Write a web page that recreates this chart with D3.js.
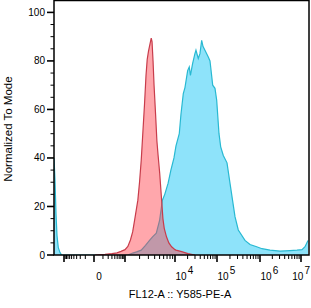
<!DOCTYPE html>
<html><head><meta charset="utf-8">
<script src="https://cdn.jsdelivr.net/npm/d3@7"></script>
<style>html,body{margin:0;padding:0;background:#fff;}svg{display:block;font-family:"Liberation Sans",Arial,sans-serif;}</style>
</head><body><div id="chart"></div>
<script>
// ---- data (fluorescence value, % of mode) ----
const redX = [8,134,302,492,707,1000,1148,1300,1445,1585,1845,1995,2158,2291,2512,2692,2844,3020,3236,3420,3548,3715,3890,4169,4426,4677,5012,5420,5808,6166,6823,7586,8590,10000,10560,14460,20400,29900];
const redY = [0,0.3,0.6,0.9,1.5,2.2,3.5,6.2,9.5,14.4,22.6,30,39,48,62,74,80.6,84,87,89.4,88,80,70,58,47,41,34,24,15,11,7.5,5,3.4,2.2,2,1.4,0.6,0];
const blueX = [-2346,-2158,-1985,-1824,-1634,-1414,-1221,1148,1445,1738,2158,2630,3162,3631,4305,5012,5675,6310,7345,8318,9550,10560,12650,13890,15780,17300,20050,21900,23370,26380,29900,31620,35900,39360,43240,46420,51760,56870,62090,68130,70790,79040,89570,98330,111300,121900,140100,170900,200400,262200,312800,447700,584800,837600,1119000,1754000,3076000,5395000,7980000,10580000,12530000,14820000];
const blueY = [40,31,17,8,3,1,0,0,0.8,1.3,2,4,6,7.5,9,14.4,22.6,25,29.6,35,40,45,50,58,66.5,69,76,77.5,74,79,83,84.4,81,83,88.5,86,84.4,83,81.6,80,77.5,70,68.7,63.8,50,44.6,41,38,29.6,15.8,10.3,6,4.3,3.4,2.6,2,1.6,1.8,2,2.2,3.4,6];
const yTicks = [0,20,40,60,80,100];
const xMajorTicks = [-1e3,0,1e3,1e4,1e5,1e6,1e7];
const xLabelTicks = [0,1e4,1e5,1e6,1e7];
const xLabelText = ["0","10|4","10|5","10|6","10|7"];
const yTitle = "Normalized To Mode";
const xTitle = "FL12-A :: Y585-PE-A";

// ---- layout ----
const W = 311, H = 308;
const L = 54, R = 309, T = 0, B = 255;
const svg = d3.select("#chart").append("svg").attr("width", W).attr("height", H);

// biexponential-like transform + piecewise display scale
const C = 100;
const f = v => Math.sign(v) * Math.log10(1 + Math.abs(v) / C);
const xs = d3.scaleLinear().domain(xMajorTicks.map(f)).range([64,94,125,175,217,260,301]);
const x = v => xs(f(v));
const y = d3.scaleLinear().domain([0,100]).range([B, 12.4]);

svg.append("defs").append("clipPath").attr("id","clip")
  .append("rect").attr("x",L).attr("y",T).attr("width",R-L).attr("height",B-T);

const area = d3.area().x(d=>x(d[0])).y0(y(0)).y1(d=>y(d[1]));
const line = d3.line().x(d=>x(d[0])).y(d=>y(d[1]));
const blue = blueX.map((v,i)=>[v,blueY[i]]);
const red = redX.map((v,i)=>[v,redY[i]]);

const g = svg.append("g").attr("clip-path","url(#clip)");
g.append("path").datum(blue).attr("d",area).attr("fill","rgb(30,200,245)").attr("fill-opacity",0.5);
g.append("path").datum(blue).attr("d",line).attr("fill","none").attr("stroke","rgb(40,185,210)").attr("stroke-width",1.2);
g.append("path").datum(red).attr("d",area).attr("fill","rgb(255,60,70)").attr("fill-opacity",0.45);
g.append("path").datum(red).attr("d",line).attr("fill","none").attr("stroke","rgb(200,60,75)").attr("stroke-width",1.2);

// frame
svg.append("rect").attr("x",L).attr("y",T+0.5).attr("width",R-L).attr("height",B-T-0.5)
  .attr("fill","none").attr("stroke","#000").attr("stroke-width",1.5);

// y axis ticks
const yMinor = d3.range(0,101,5).filter(v=>v%20!==0);
yMinor.forEach(v=>{
  svg.append("line").attr("x1",L-3.5).attr("x2",L).attr("y1",y(v)).attr("y2",y(v)).attr("stroke","#000").attr("stroke-width",1);
});
yTicks.forEach(v=>{
  svg.append("line").attr("x1",L-7).attr("x2",L).attr("y1",y(v)).attr("y2",y(v)).attr("stroke","#000").attr("stroke-width",1.6);
  svg.append("text").attr("x",L-9).attr("y",y(v)+3.5).attr("text-anchor","end").attr("font-size",10).text(v);
});

// x axis ticks
let xMinor = [];
for (let k=1;k<10;k++){ xMinor.push(k*100, -k*100); }
[1e3,1e4,1e5,1e6].forEach(d=>{ for(let k=2;k<10;k++) xMinor.push(k*d); });
xMinor.forEach(v=>{
  svg.append("line").attr("x1",x(v)).attr("x2",x(v)).attr("y1",B).attr("y2",B+4).attr("stroke","#000").attr("stroke-width",1);
});
xMajorTicks.forEach(v=>{
  svg.append("line").attr("x1",x(v)).attr("x2",x(v)).attr("y1",B).attr("y2",B+7).attr("stroke","#000").attr("stroke-width",1.6);
});
xLabelTicks.forEach((v,i)=>{
  const parts = xLabelText[i].split("|");
  if (parts.length===1){
    svg.append("text").attr("x",x(v)+5).attr("y",280).attr("text-anchor","middle").attr("font-size",10).text(parts[0]);
  } else {
    const t = svg.append("text").attr("x",x(v)+0.5).attr("y",280).attr("text-anchor","start").attr("font-size",10);
    t.append("tspan").text(parts[0]);
    t.append("tspan").attr("dx",1).attr("dy",-6.5).attr("font-size",10).text(parts[1]);
    const w = t.node().getComputedTextLength() + 1;
    if (x(v) + 0.5 + w > W - 1) t.attr("x", W - 1 - w);
  }
});

// titles
svg.append("text").attr("transform",`translate(12,129) rotate(-90)`).attr("text-anchor","middle").attr("font-size",11.5).text(yTitle);
svg.append("text").attr("x",180).attr("y",298).attr("text-anchor","middle").attr("font-size",11).text(xTitle);
</script></body></html>
